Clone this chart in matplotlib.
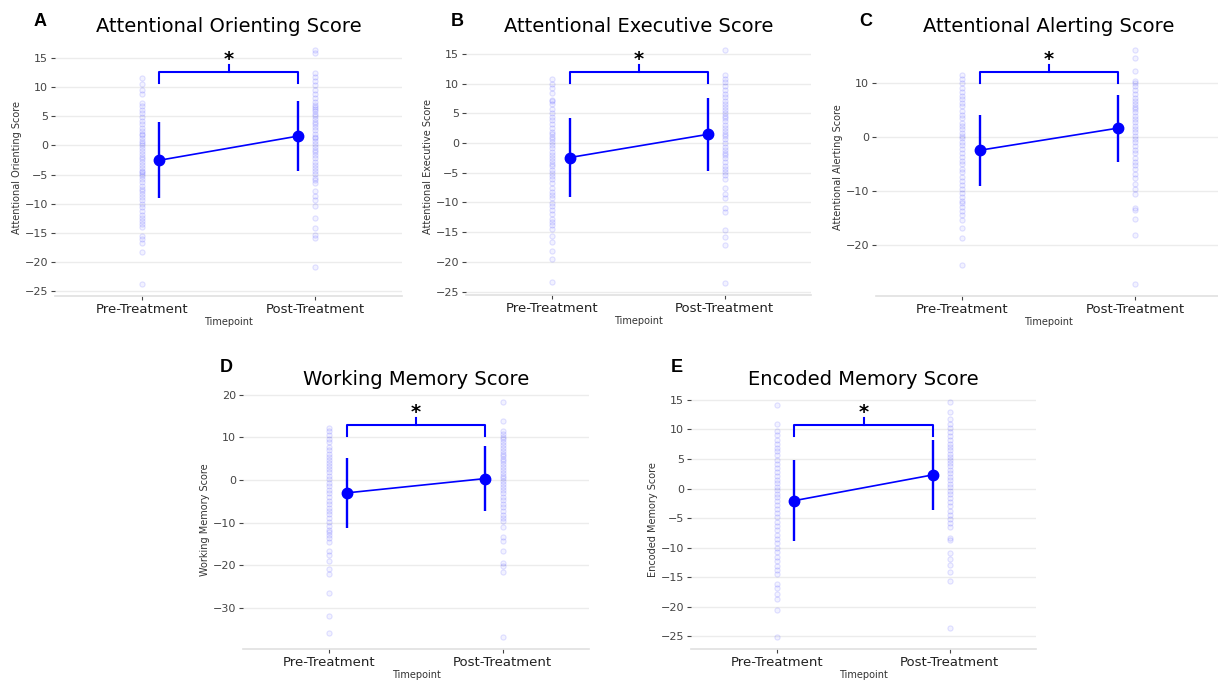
import numpy as np
import matplotlib.pyplot as plt
from matplotlib.ticker import MultipleLocator
import matplotlib.transforms as mtransforms

# Categorías y paneles
timepoints = ["Pre-Treatment", "Post-Treatment"]
letters = ["A", "B", "C", "D", "E"]
titles = ["Attentional Orienting Score", "Attentional Executive Score",
          "Attentional Alerting Score", "Working Memory Score", "Encoded Memory Score"]

# Puntuaciones individuales
orient_pre = [11.6, 10.5, 9.5, 8.8, 7.2, 6.8, 6.1, 5.5, 4.9, 4.2, 3.6, 3.0, 2.4, 2.0, 1.8, 1.3,
              0.8, 0.4, 0.0, -0.5, -1.0, -1.4, -1.9, -2.3, -2.8, -3.3, -3.8, -4.3, -4.6, -4.9,
              -5.3, -5.8, -6.3, -6.9, -7.4, -7.8, -8.3, -8.8, -9.4, -10.0, -10.6, -11.2, -11.9,
              -12.5, -12.9, -13.4, -14.0, -15.6, -16.0, -16.8, -18.3, -23.8]
orient_post = [16.4, 15.9, 12.4, 11.8, 11.0, 10.3, 9.5, 8.8, 8.1, 7.5, 7.0, 6.5, 6.2, 5.9, 5.4,
               5.0, 4.5, 4.0, 3.6, 3.1, 2.6, 2.0, 1.5, 1.2, 0.8, 0.3, -0.2, -0.7, -1.2, -1.7,
               -2.2, -2.9, -3.3, -3.9, -4.4, -4.9, -5.5, -5.9, -6.5, -7.8, -8.6, -9.4, -10.4,
               -12.4, -14.2, -15.4, -15.9, -20.9]
exec_pre = [10.7, 10.0, 9.2, 8.4, 7.3, 7.0, 6.5, 5.8, 5.0, 4.3, 3.9, 3.2, 2.5, 1.9, 1.5, 1.0,
            0.6, 0.1, -0.4, -0.9, -1.5, -2.0, -2.6, -3.0, -3.5, -3.9, -4.5, -5.0, -5.5, -6.1,
            -6.8, -7.5, -8.2, -8.7, -9.3, -10.1, -10.6, -11.3, -12.0, -12.8, -13.3, -13.8,
            -14.4, -15.6, -16.7, -18.1, -19.5, -23.4]
exec_post = [15.7, 11.5, 10.8, 10.2, 9.6, 8.9, 8.3, 7.7, 7.1, 6.6, 6.0, 5.5, 5.1, 4.6, 4.2,
             3.7, 3.1, 2.6, 2.0, 1.6, 1.1, 0.6, 0.0, -0.6, -1.1, -1.6, -2.0, -2.6, -3.2, -3.8,
             -4.4, -4.8, -5.4, -6.1, -7.6, -8.6, -9.3, -11.0, -11.6, -14.6, -15.8, -17.2, -23.6]
alert_pre = [11.5, 10.8, 10.0, 9.2, 8.3, 7.7, 7.1, 6.4, 5.7, 4.9, 4.2, 3.5, 2.7, 2.0, 1.5, 0.8,
             0.2, -0.1, -0.8, -1.5, -2.2, -2.9, -3.6, -4.3, -5.0, -5.8, -6.5, -7.3, -8.0, -8.8,
             -9.6, -10.3, -11.0, -11.8, -12.2, -12.9, -13.6, -14.4, -15.3, -16.8, -18.6, -23.6]
alert_post = [16.2, 14.6, 12.2, 10.5, 10.0, 9.4, 8.7, 8.0, 7.3, 6.8, 6.2, 5.6, 5.2, 4.7, 4.0,
              3.4, 2.8, 2.1, 1.5, 0.9, 0.3, -0.3, -0.9, -1.6, -2.3, -3.0, -3.8, -4.5, -5.2,
              -5.9, -6.8, -7.6, -8.7, -9.5, -10.5, -13.0, -13.5, -15.2, -18.0, -27.2]
wm_pre = [12.3, 11.5, 10.6, 9.7, 8.8, 7.8, 7.0, 6.2, 5.3, 4.6, 4.0, 3.3, 2.5, 1.8, 1.0, 0.2,
          -0.6, -1.5, -2.3, -3.1, -4.0, -4.8, -5.7, -6.6, -7.3, -7.9, -8.8, -9.8, -10.7, -11.6,
          -12.2, -12.9, -13.5, -14.6, -16.5, -17.5, -18.9, -20.8, -22.0, -26.5, -31.9, -35.7]
wm_post = [18.2, 13.9, 11.6, 10.9, 10.2, 9.5, 8.8, 8.1, 7.5, 6.9, 6.2, 5.6, 5.0, 4.4, 3.8, 3.1,
           2.4, 1.7, 1.0, 0.4, -0.3, -1.0, -1.7, -2.4, -3.1, -3.9, -4.7, -5.5, -6.4, -7.3, -8.2,
           -8.9, -9.5, -11.0, -13.4, -14.3, -16.7, -19.5, -20.1, -21.6, -36.8]
enc_pre = [14.2, 10.9, 9.8, 9.0, 8.3, 7.6, 6.9, 6.3, 5.6, 4.9, 4.2, 3.5, 2.8, 2.1, 1.5, 0.9,
           0.3, -0.3, -0.9, -1.5, -2.1, -2.8, -3.5, -4.2, -4.9, -5.6, -6.3, -7.0, -7.8, -8.5,
           -9.3, -10.0, -10.8, -11.6, -12.3, -13.1, -13.8, -14.4, -16.1, -16.9, -17.8, -18.7,
           -20.6, -25.2]
enc_post = [14.6, 12.9, 11.8, 11.0, 10.3, 9.5, 8.9, 8.2, 7.6, 7.0, 6.5, 5.9, 5.3, 4.9, 4.4,
            3.8, 3.2, 2.6, 2.0, 1.4, 0.8, 0.2, -0.4, -1.0, -1.6, -2.3, -3.0, -3.8, -4.5, -5.2,
            -5.9, -6.6, -8.4, -8.8, -11.0, -12.0, -13.0, -14.2, -15.6, -23.7]

# Medias y desviaciones estándar (pre, post)
means = [[-2.55, 1.6], [-2.45, 1.45], [-2.4, 1.7], [-3.0, 0.35], [-2.05, 2.3]]
sds = [[6.5, 6.0], [6.6, 6.2], [6.6, 6.2], [8.15, 7.55], [6.8, 6.0]]

pre_data = [orient_pre, exec_pre, alert_pre, wm_pre, enc_pre]
post_data = [orient_post, exec_post, alert_post, wm_post, enc_post]
ystep = [5, 5, 10, 10, 5]

# Posiciones de los ejes en fracción de figura
boxes = [[0.0452, 0.5647, 0.2849, 0.3794],
         [0.3826, 0.5662, 0.2833, 0.3779],
         [0.7192, 0.5647, 0.2840, 0.3794],
         [0.1995, 0.0456, 0.2841, 0.3800],
         [0.5673, 0.0456, 0.2833, 0.3800]]
# Posición de las letras (píxeles)
letter_px = [(40, 22), (457, 22), (866, 22), (226, 368), (677, 368)]

W, H = 1218, 680
fig = plt.figure(figsize=(W / 100, H / 100), dpi=100)

face = (0.0, 0.0, 1.0, 0.05)
edge = (0.0, 0.0, 1.0, 0.11)

for i in range(5):
    ax = fig.add_axes(boxes[i])
    pre = np.array(pre_data[i])
    post = np.array(post_data[i])

    # Puntos individuales
    ax.scatter(np.zeros(len(pre)), pre, s=14, facecolors=face, edgecolors=edge, linewidths=0.8)
    ax.scatter(np.ones(len(post)), post, s=14, facecolors=face, edgecolors=edge, linewidths=0.8)

    # Media +/- DE
    ax.errorbar([0.1, 0.9], means[i], yerr=sds[i], color="blue", marker="o", ms=7.5,
                lw=1.2, elinewidth=1.7, capsize=0, zorder=5)

    # Corchete de significación
    trans = mtransforms.blended_transform_factory(ax.transData, ax.transAxes)
    ax.plot([0.1, 0.1, 0.9, 0.9], [0.825, 0.868, 0.868, 0.825], color="blue", lw=1.5,
            transform=trans, solid_joinstyle="round", clip_on=False)
    ax.plot([0.5, 0.5], [0.868, 0.895], color="blue", lw=1.5, transform=trans, clip_on=False)
    ax.text(0.5, 0.915, "*", transform=trans, ha="center", va="center", fontsize=14,
            fontweight="bold")

    ax.set_xlim(-0.5, 1.5)
    ax.set_xticks([0, 1])
    ax.set_xticklabels(timepoints, fontsize=9.5, color="#222222")
    ax.yaxis.set_major_locator(MultipleLocator(ystep[i]))
    ax.tick_params(axis="y", labelsize=8, colors="#444444", length=3, width=0.8, pad=2)
    ax.tick_params(axis="x", colors="#444444", length=3, width=0.8, pad=2)
    for lab in ax.get_xticklabels():
        lab.set_color("#222222")

    ax.yaxis.grid(True, color="#ececec", lw=1.0)
    ax.set_axisbelow(True)
    for side in ["left", "top", "right"]:
        ax.spines[side].set_visible(False)
    ax.spines["bottom"].set_color("#e0e0e0")
    ax.spines["bottom"].set_linewidth(1.2)

    ax.set_title(titles[i], fontsize=14, pad=4)
    ax.set_ylabel(titles[i], fontsize=7, color="#333333", labelpad=2)
    ax.set_xlabel("Timepoint", fontsize=7, color="#333333", labelpad=1)

    # Letra del panel
    fig.text(letter_px[i][0] / W, 1 - letter_px[i][1] / H, letters[i],
             fontsize=13, fontweight="bold", family="Liberation Sans",
             ha="center", va="center")

fig.savefig("out.png", dpi=100)
